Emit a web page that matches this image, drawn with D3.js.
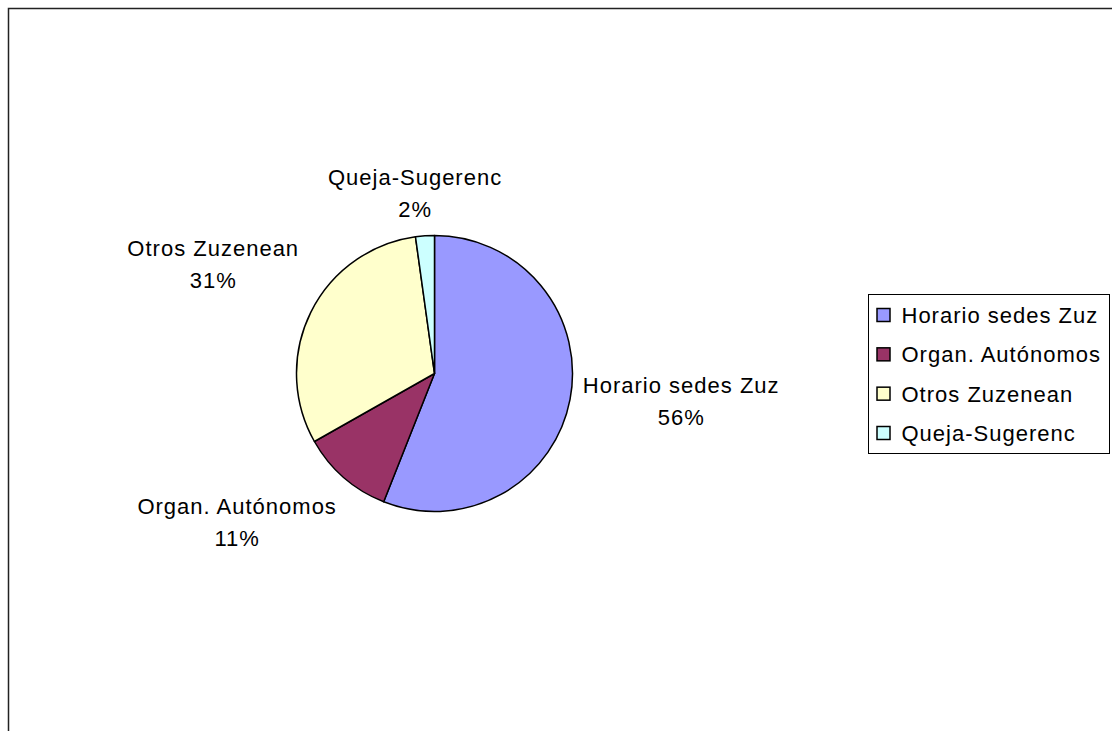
<!DOCTYPE html>
<html>
<head>
<meta charset="utf-8">
<script src="https://cdn.jsdelivr.net/npm/d3@7"></script>
<style>
  body { margin: 0; background: #fff; }
  svg { display: block; }
  text { font-family: "Liberation Sans", Arial, sans-serif; font-size: 22px; letter-spacing: 1px; fill: #000; }
</style>
</head>
<body>
<svg width="1112" height="731"></svg>
<script>
var categories = ["Horario sedes Zuz", "Organ. Autónomos", "Otros Zuzenean", "Queja-Sugerenc"];
var values = [56.0, 10.8, 31.0, 2.2];
var percentLabels = ["56%", "11%", "31%", "2%"];
var colors = ["#9999FF", "#993366", "#FFFFCC", "#CCFFFF"];

var svg = d3.select("svg");

// outer chart frame (runs off the right and bottom of the picture)
svg.append("rect")
  .attr("x", 8.5)
  .attr("y", 8.5)
  .attr("width", 1130)
  .attr("height", 760)
  .attr("fill", "none")
  .attr("stroke", "#222")
  .attr("stroke-width", 1.5);

var cx = 434.5, cy = 373.5, radius = 138;

var data = categories.map(function (c, i) {
  return { name: c, value: values[i], pct: percentLabels[i], color: colors[i] };
});

var pie = d3.pie().sort(null).value(function (d) { return d.value; });
var arc = d3.arc().innerRadius(0).outerRadius(radius);

var g = svg.append("g").attr("transform", "translate(" + cx + "," + cy + ")");

var arcs = pie(data);

g.selectAll(".slice")
  .data(arcs)
  .enter()
  .append("path")
  .attr("class", "slice")
  .attr("d", arc)
  .attr("fill", function (d) { return d.data.color; })
  .attr("stroke", "#000")
  .attr("stroke-width", 1.5)
  .attr("stroke-linejoin", "round");

// data labels, pushed outside the pie along each slice's middle angle
var labelArc = d3.arc().innerRadius(radius + 13).outerRadius(radius + 13);
var lineGap = 32;

function clamp(v) { return Math.max(-1, Math.min(1, v)); }

g.selectAll(".lbl")
  .data(arcs)
  .enter()
  .append("text")
  .attr("class", "lbl")
  .attr("text-anchor", "middle")
  .each(function (d) {
    var t = d3.select(this);
    var mid = (d.startAngle + d.endAngle) / 2;
    var s = Math.sin(mid), c = Math.cos(mid);
    var p = labelArc.centroid(d);
    t.append("tspan").text(d.data.name);
    var w = this.getComputedTextLength();
    var h = lineGap * 2;
    var bx = p[0] + (w / 2) * clamp(1.5 * s);
    var dy = Math.abs(c) > 0.3 ? (h / 2 - 3 + 23 * (1 - Math.abs(c))) : 0;
    var by = p[1] + (c > 0 ? -dy : dy);
    t.select("tspan")
      .attr("x", bx)
      .attr("y", by - lineGap / 2)
      .attr("dominant-baseline", "central");
    t.append("tspan")
      .attr("x", bx)
      .attr("y", by + lineGap / 2)
      .attr("dominant-baseline", "central")
      .text(d.data.pct);
  });

// legend
var legend = svg.append("g").attr("transform", "translate(868.5,294.5)");

legend.append("rect")
  .attr("width", 241)
  .attr("height", 159)
  .attr("fill", "#fff")
  .attr("stroke", "#000")
  .attr("stroke-width", 1);

var rowY = d3.scalePoint().domain(categories).range([21, 139]);

var items = legend.selectAll(".item")
  .data(data)
  .enter()
  .append("g")
  .attr("class", "item")
  .attr("transform", function (d) { return "translate(0," + rowY(d.name) + ")"; });

items.append("rect")
  .attr("x", 8.5)
  .attr("y", -7)
  .attr("width", 13)
  .attr("height", 13)
  .attr("fill", function (d) { return d.color; })
  .attr("stroke", "#000")
  .attr("stroke-width", 1.5);

items.append("text")
  .attr("x", 33)
  .attr("y", 0)
  .attr("dominant-baseline", "central")
  .text(function (d) { return d.name; });
</script>
</body>
</html>
